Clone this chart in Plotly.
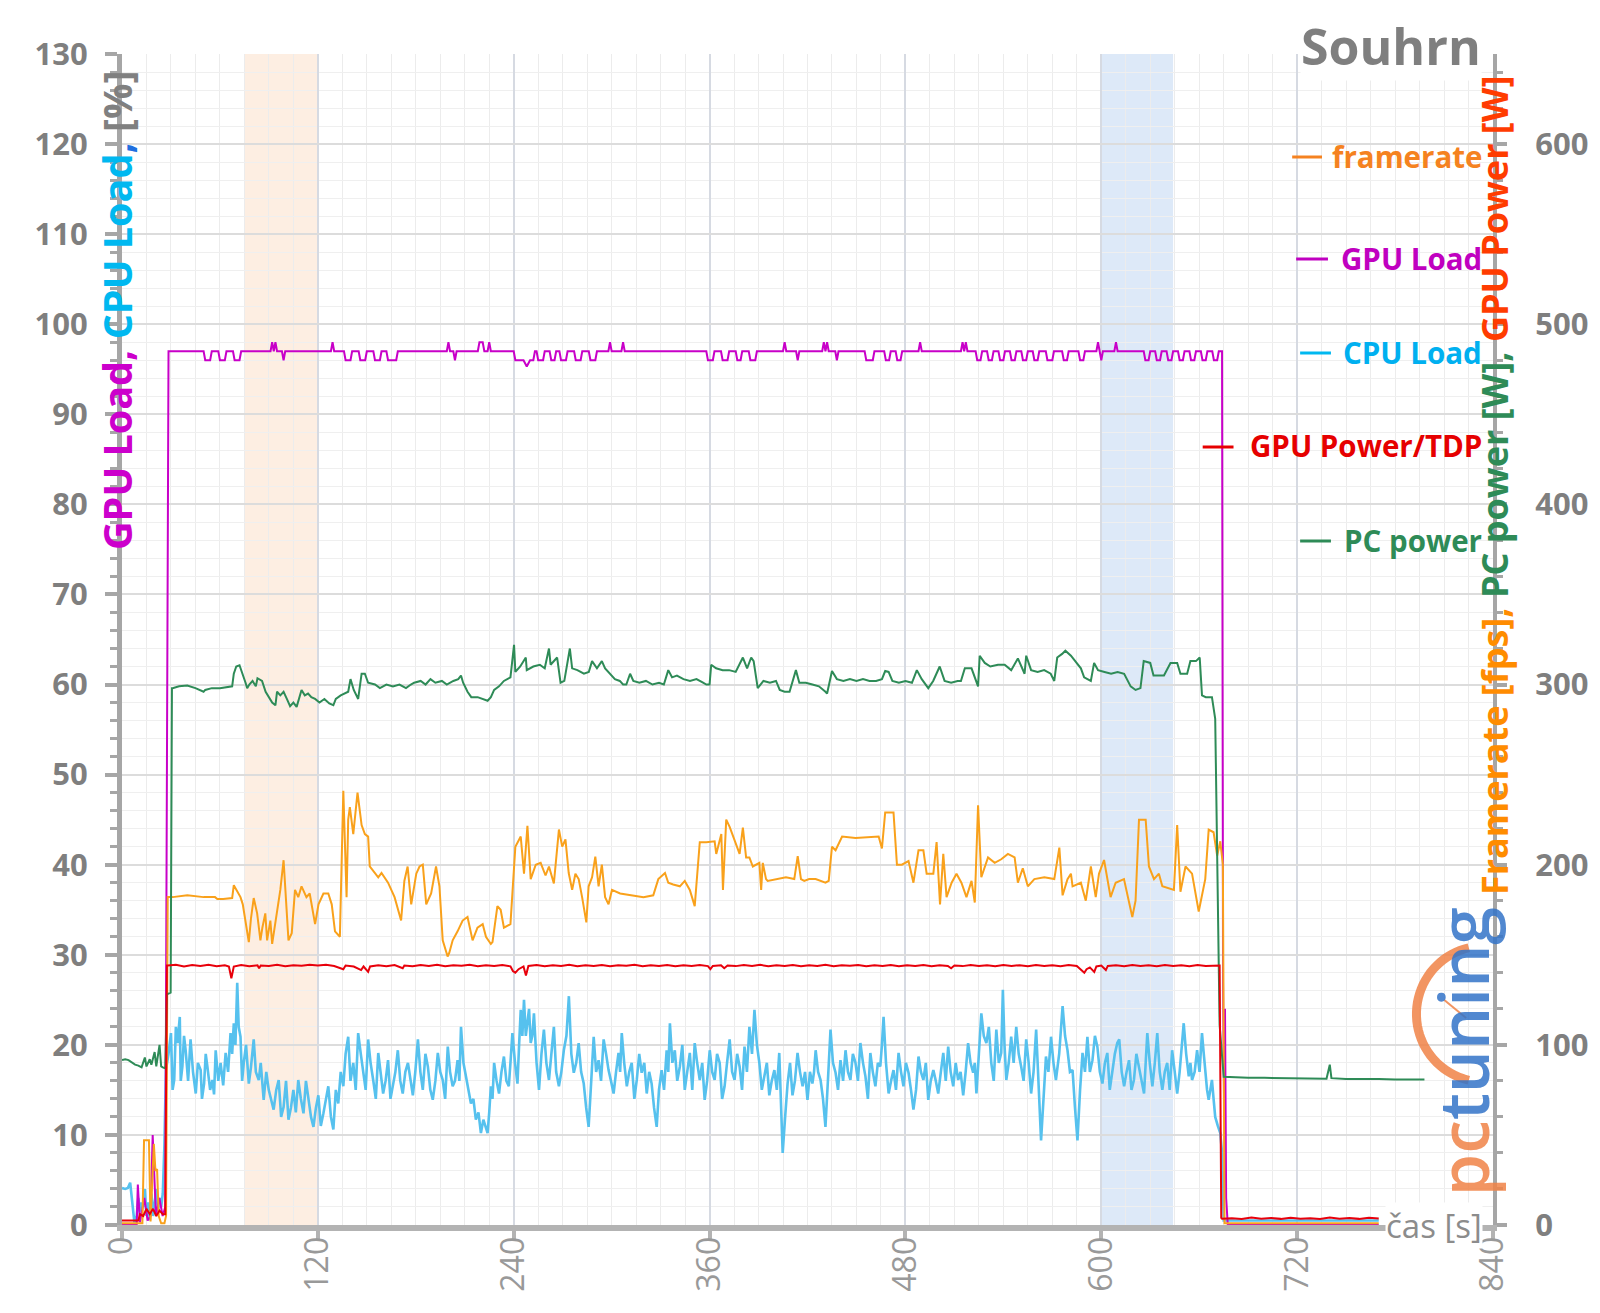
import plotly.graph_objects as go
import numpy as np

# ---------------- data ----------------
gpu_load_pts = [
    (0,0),(9,0),(9.7,4.5),(11,0.3),(13.7,3),(15.7,0.5),(17.5,1),(18.8,10),(20.8,1),(22.9,3),(24.9,1),(26.5,2),(28.5,97),
    (50,97),(51,96),(54,96),(55,97),(59,97),(60,96),(63,96),(64,97),(68,97),(69,96),(72,96),(73,97),
    (91,97),(92,98),(93,97),(94,98),(95,97),(98,97),(99,96),(100,97),
    (128,97),(129,98),(130,97),(136,97),(137,96),(140,96),(141,97),(145,97),(146,96),(149,96),(150,97),
    (154,97),(155,96),(158,96),(159,97),(162,97),(163,96),(168,96),(169,97),
    (199,97),(200,98),(201,97),(203,97),(204,96),(205,97),
    (218,97),(219,98),(221,98),(222,97),(224,97),(225,98),(226,97),
    (240,97),(241,96),(246,96),(248,95.3),(250,96),(252,96),(253,97),
    (254,97),(255,96),(258,96),(259,97),(262,97),(263,96),(265,96),(266,97),(268,97),(269,96),(272,96),(273,97),
    (277,97),(278,96),(281,96),(282,97),(286,97),(287,96),(290,96),(291,97),
    (298,97),(299,98),(300,97),(306,97),(307,98),(308,97),
    (358,97),(359,96),(362,96),(363,97),(367,97),(368,96),(371,96),(372,97),(376,97),(377,96),(379,96),(380,97),
    (384,97),(385,96),(388,96),(389,97),(405,97),(406,98),(407,97),(413,97),(414,96),(415,97),
    (429,97),(430,98),(431,97),(432,98),(433,97),(437,97),(438,96),(439,97),
    (455,97),(456,96),(460,96),(461,97),(467,97),(468,96),(470,96),(471,97),(474,97),(475,96),(477,96),(478,97),
    (488,97),(489,98),(490,97),(514,97),(515,98),(516,97),(517,98),(518,97),
    (523,97),(524,96),(526,96),(527,97),(530,97),(531,96),(533,96),(534,97),(537,97),(538,96),(540,96),(541,97),
    (544,97),(545,96),(547,96),(548,97),(551,97),(552,96),(554,96),(555,97),(558,97),(559,96),(561,96),(562,97),
    (566,97),(567,96),(570,96),(571,97),(576,97),(577,96),(579,96),(580,97),(586,97),(587,96),(589,96),(590,97),
    (597,97),(598,98),(599,97),(600,96),(601,97),(608,97),(609,98),(610,97),
    (626,97),(627,96),(629,96),(630,97),(633,97),(634,96),(636,96),(637,97),(640,97),(641,96),(643,96),(644,97),
    (647,97),(648,96),(650,96),(651,97),(654,97),(655,96),(657,96),(658,97),(661,97),(662,96),(664,96),(665,97),
    (668,97),(669,96),(671,96),(672,97),(674,97),
    (674.6,27),(675.3,12),(675.8,24),(676.5,3),(677.5,0),(770,0),
]

cpu_load_pts = [
    (0,4.1),(2,4),(3.6,4.1),(5,4.7),(6,3),(7.6,0.3),(9,1),(10,3),(11,1.5),(12,2.5),(13,2),(14,4),(15,1),(16,2.5),
    (17,0.5),(18,3.5),(19,1),(20,2.5),(21,4),(22,1.5),(23,3),(24,2),(25,3.5),(26,9),
    (26.9,17.2),(28.5,19),(30,21.3),(31,15),(32,16.1),(33,22),(34,20.2),(35.4,23.1),(36,16),(37,17.6),(38,21),
    (39,19.4),(40.5,16),(42,20.6),(43.5,17),(45.2,14.6),(46.5,18),(48.2,17.2),(49,14),(50.3,15.7),(51.3,19),
    (52.3,17.6),(54,15),(55.4,16.1),(56.4,14.5),(57.4,19.4),(59,16),(60.4,18),(62,15.5),(63.5,19.1),(65,17),
    (66.5,21.3),(67.5,19),(68.5,22.4),(69.5,20),(70.6,26.9),(71.5,22),(72.6,20.9),(73.6,16),(74.6,18),(76,20),
    (77.7,15.7),(79,17.5),(80.7,20.6),(82,17),(83.8,16.1),(85,18),(86.8,13.9),(88.4,17),(89.9,15),(91.4,14),
    (92.9,12.8),(94.5,15),(96,16.1),(97.5,12),(99,13.1),(100.5,16),(102,11.7),(103.5,13),(105,15),(106.5,12.5),
    (108,16.1),(109.6,14),(111.2,12.4),(112.7,16),(114.2,13.9),(115.8,12),(117.3,10.9),(118.8,13),(120.3,14.4),
    (121.8,11),(123.4,12.4),(124.9,14),(126.4,15.4),(128,12),(129.5,10.6),(131,15),(132.5,13.5),(134,17),
    (135.6,15.4),(137,19),(138.6,20.9),(140,16),(141.7,18),(143.2,15),(144.7,21.3),(146.3,19),(147.8,17.2),
    (149.3,15),(150.8,20.6),(152.3,18),(153.9,16.1),(155.5,14),(157,19.1),(158.5,17),(160,14.6),(161.5,16),
    (163,18.3),(164.5,14),(166,15.4),(167.5,17),(169,19.4),(170.5,16),(172,14.6),(173.6,17),(175.2,18),
    (176.7,16),(178.2,14.4),(179.7,17),(181.3,20.6),(182.8,17),(184.3,15),(185.9,19),(187.4,17.6),(188.9,15),
    (190.4,13.9),(192,16),(193.5,19.1),(195,17),(196.5,16.1),(198,14),(199.6,19.8),(201,17),(202.6,15.4),
    (204,16),(205.6,18.3),(206.7,16),(207.7,22),(209.2,18),(210.7,16.5),(212.3,15),(213.8,13.5),(215.3,14),
    (216.8,11.7),(218.4,12.5),(219.9,10.2),(221.4,11.7),(222.9,10.9),(224,10.2),(225,12.5),(226,15.4),(227,14),
    (228,18),(229.5,16),(231,14.6),(232.5,17),(234,18.7),(235.5,16),(237,15.4),(238,18),(239.2,21.3),
    (240.8,18),(242.3,15.7),(243.3,20),(244.3,23.9),(245.3,21),(246.3,25),(247.4,21),(248.4,22.8),(249.4,24),
    (250.4,20.2),(251.4,21),(252.4,23.5),(254,18),(255.5,15),(257,19),(258.5,21.7),(260,18),(261.6,16.1),
    (263,19),(264.6,22),(266,17),(267.7,15.4),(269.2,17),(270.7,19.4),(272.3,21),(273.8,25.4),(275.3,19),
    (276.8,16.9),(278.3,18),(279.8,20.2),(281.3,17),(282.9,15.7),(284.4,13),(285.9,10.9),(287.5,16),(289,20.9),
    (290.5,17),(292,18.3),(293.5,16),(295.1,20.6),(296.6,19),(298.1,17.2),(299.6,16),(301.2,14.6),(302.7,17),
    (304.2,19.1),(305.2,17),(306.2,21.3),(307.7,18),(309.3,15.4),(310.8,17),(312.3,18),(313.9,14),(315.4,16.1),
    (316.9,19),(318.4,16.9),(320,18),(321.5,14.6),(323,17),(324.5,15.7),(326,13),(327.6,10.9),(329,15),
    (330.6,17.2),(332.1,15),(333.7,19.4),(334.7,17),(335.7,22.4),(337.2,18),(338.7,19.4),(340.2,16),
    (341.8,17.6),(343.3,20),(344.8,15),(346.3,17),(347.9,19.1),(349.4,15),(350.9,20.2),(352.4,18),(354,16.1),
    (355.5,18),(357,13.9),(358.5,16),(360.1,19.4),(361.6,17),(363.1,16.1),(364.6,19),(366.2,18),(367.7,14),
    (369.2,15.4),(370.7,18),(372.3,20.6),(373.8,17),(375.3,16.1),(376.9,19),(378.4,17.6),(379.9,15),
    (381.4,19.8),(382.9,17),(384.4,22),(386,19),(387.5,23.9),(389,20),(390.5,18),(392,15),(393.6,16.5),
    (395.1,18),(396.6,14.4),(398.1,16),(399.7,17.2),(401.2,15),(402.7,19.1),(403.8,14),(404.8,8),(406.3,12),
    (407.8,15.7),(409.3,18),(410.8,14.4),(412.3,16),(413.9,19.1),(415.4,17),(417,15.4),(418.5,17),(420,13.9),
    (421.5,17),(423,15.7),(424,17),(425,19.4),(426.5,17),(428,16.1),(429.5,14),(431,10.9),(432.5,16),
    (434.1,21.7),(435.6,18),(437.2,16.9),(438.7,15),(440.2,18.3),(441.8,16),(443.3,19.4),(444.8,17),
    (446.3,16.1),(447.8,19),(449.4,18),(450.9,16),(452.4,20.2),(454,18),(455.5,16.5),(457,14),(458.5,19.1),
    (460,17),(461.6,15.4),(463.1,18),(464.6,17.6),(465.6,20),(466.6,23.1),(468.1,18),(469.7,14.6),(471.2,16),
    (472.7,17.2),(474.2,15),(475.8,19.1),(477.3,17),(478.8,15.4),(480.3,18),(481.9,16.9),(483.4,15),
    (484.9,12.8),(486.5,15),(488,18.7),(489.5,17),(491,16.1),(492.5,18),(494,13.9),(495.5,16),(497.1,17.2),
    (498.6,16),(500.1,14.6),(501.7,17),(503.2,19.1),(504.7,16),(506.2,19.8),(507.7,17),(509.3,15.4),
    (510.8,18),(512.3,16.1),(513.8,17),(515.4,14.4),(516.9,17),(518.4,20.2),(519.9,18),(521.5,16.9),
    (522.5,18),(523.5,14.6),(525,19),(526.5,23.5),(528,21),(529.6,20.2),(531.1,22),(532.6,18),(534.1,16),
    (535.7,21.7),(537.2,18),(538.7,19.1),(539.7,26.1),(540.7,20),(541.8,16.1),(543.3,18),(544.8,20.9),
    (546.3,18),(547.9,22),(549.4,19),(550.9,17.6),(552.4,16),(554,20.6),(555.5,18),(557,14.6),(558.5,17),
    (560.1,21.7),(561.6,15),(563.1,9.4),(564.6,14),(566.1,18.7),(567.6,17),(569.2,20.9),(570.7,18),
    (572.2,16.1),(574.2,19),(576.3,24.3),(577.8,21),(579.3,19.4),(580.8,17),(582.4,17.2),(583.9,13),
    (585.4,9.4),(587,15),(588.5,19.1),(590,17),(591.5,20.9),(593,17),(594.6,18.3),(596.1,21),(597.6,19.8),
    (599.1,17),(600.7,15.7),(602.2,18),(603.7,19.1),(605.2,15),(606.8,16.9),(608.3,19),(609.8,20.2),(611,20.6),
    (612.5,17),(614,15.4),(615.5,17),(617,18.3),(618.5,15),(620,16.1),(621.5,19),(623.1,17.6),(624.6,16),
    (626.2,14.6),(627.2,18),(628.2,21.3),(629.7,18),(631.3,15.4),(632.8,18),(634.3,21.3),(635.8,17),(637.4,15),
    (638.9,17),(640.4,18),(641.9,15),(643.4,19.4),(645,17),(646.5,14.6),(648,17),(649.5,20.9),(650.5,22.4),
    (652,19),(653.6,16.5),(654.6,18),(655.6,16.1),(657.2,17),(658.7,19.4),(660.2,17),(661.7,21.3),(662.8,19),
    (663.8,16.5),(664.8,15),(665.8,13.9),(666.8,15),(667.8,16.1),(668.8,14),(669.8,12),(671.4,11),(672.9,10.2),
    (674,8),(675,0.5),(770,0.5),
]

framerate_pts = [
    (0,1),(12.5,1),(13.5,47),(16.5,47),(17.5,2),(18.5,25),(19.5,45),(20.5,30),(21.5,31),(22.5,5),(24,1),(26,1),(27,5),
    (28,182),(31,182),(40,183),(50,182),(57,182),(58.4,181),(62,181),(67.5,181.5),(68.5,188.6),(70.6,185),
    (72.6,182),(74,178),(75.7,169),(77.7,157),(79,170),(80.7,181.5),(82.8,173),(84.8,158),(86,165),(87.8,173),
    (88.9,158),(90.9,169),(92,156),(94,167),(97,186),(99,202.5),(100,188),(102,158),(104,162),(106,186),
    (108,182),(110,188),(113,182),(115,184),(118.3,167),(120.4,178),(123.4,184),(126.4,184),(128.5,178),
    (130.5,163),(133.5,160),(135.6,241),(137.6,182),(138.6,225),(139.6,232),(141.7,217),(144.3,240),
    (146.8,222),(148.8,217),(150.8,215.6),(151.8,199),(154.9,195),(157,193),(159,195.4),(163,190),(167,182),
    (171,169),(173,191),(175,199),(177.2,178),(180.3,195),(182.3,199),(184.3,200),(186.4,178),(189.4,184),
    (192.4,199),(194.5,188),(196.5,158),(199.5,149),(200.5,151),(202.6,158),(205.6,163),(208.7,169),
    (211.7,171),(214.8,158),(217.8,165),(221,167),(223,160),(226,156),(227,157),(230,177),(232,175),(234,165),
    (238,167),(241,210),(244.3,215.6),(246.3,195),(248.4,221.6),(250.4,192),(253.5,200),(256.5,201),
    (259.5,194),(261.6,199),(264.6,189.6),(267.7,219.5),(269.7,210),(271.7,214),(273.7,195.4),(275.8,186),
    (277.8,195),(279.8,192),(281.9,182),(284.5,168),(285.9,188),(288,193),(290,204.5),(292,188),(294,200),
    (296,182),(298.1,178),(300.2,186),(305.2,184),(313.4,183),(319.5,182),(325.5,183),(328.6,192),
    (332.7,195.4),(334.7,190),(337.7,189),(341.8,188),(344.8,191),(347.9,186),(350.9,177),(353,200),
    (354,212.5),(358,212.5),(363.1,213),(364.1,206),(367.2,217),(368.2,186),(370.2,225),(372.3,221),
    (375.3,214),(378.4,206),(380.4,220.6),(382.4,204),(384.4,204),(386.5,199),(390.5,201),(391.6,186),
    (392.6,201),(394.6,192),(395.6,191),(400.7,192),(406.8,193),(411.9,192),(414,204.7),(416,192),(418,191),
    (421,192),(425,192),(431,190),(433,191),(435,210),(437.2,208),(441.2,215.6),(449.4,214.8),(463.6,215.6),
    (465.6,209),(467.6,229),(472.7,229),(474.8,200),(477.8,200),(481.9,202),(484.9,190),(488,208),(491,208),
    (493,195),(497.1,195),(499.1,212.5),(501.2,178),(503.2,206),(505.2,182),(508.3,190),(511.3,195),
    (514.3,190),(517.4,182),(520.5,191),(522.5,179),(524.5,233),(526.5,193),(530.6,204),(534.7,201),
    (538.7,203),(542.8,206),(546.9,204),(548.9,190),(551.9,198),(555,188),(559,192),(565.1,193),(571.2,192),
    (574.3,209.5),(576.3,183),(579.3,192),(581.4,195),(582.4,188),(587.5,190),(590.5,180),(593.6,199),
    (596.6,182),(598.6,195),(601.7,202.6),(605.7,182),(608.8,190),(613.9,192),(615.9,184),(619,171),(621,180),
    (623.1,225),(627.2,225),(629.2,199),(632.3,192),(635.3,195),(637.4,188),(644.5,186),(646.5,222),
    (648.5,185),(651.6,199),(655.6,195),(659.7,174),(663.7,192),(665.8,219.5),(668.8,218),(671,205),
    (672.9,213),(674.5,200),(675.5,1),(700,1),(730,1),(770,1),
]

pc_power_pts = [
    (0,91.5),(2,92),(4,91.5),(6,90),(8,89),(10,88.5),(12,87.5),(14,93),(15,88),(17,92),(18,89),(20,96),(21,88),
    (23,100),(24,88),(25,87.5),(26.5,87),(27.5,128),(29.8,129),(30.6,298),
    (31,298),(35,299),(40,299.5),(45,298),(48,297),(50,296),(51,297),(55,298),(60,298),(65,298.5),(67.5,299),
    (68.5,306),(70,310),(72,310.7),(74,306),(75.7,301),(76.7,298),(78,300),(80,302),(82,299),(83,303.5),
    (85.8,302),(88,296),(90,293),(92,290),(94,288.5),(95,296),(97,294),(99,296),(101,292),(103,288),(105,290),
    (107,287.6),(110,297),(112,294),(114,295),(116,293),(118.3,292),(121,290),(124,292),(127,289.5),
    (129.5,288.5),(131,292),(134,294),(136,295),(138.6,296),(140,303),(142,297),(144.7,292),(146.8,306),
    (148.8,306),(150.8,301),(155,300),(158,298),(162,300),(166,299),(170,300),(174,298),(177,300),(179,301),
    (183,302),(186,300),(189,303),(192,301),(196,302),(199,300),(203,302),(206,303),(207.7,305),(209,301),
    (211.7,296),(214,293),(217.9,293),(221,292),(224,291),(226,293),(228,297),(231,299),(234,302),(238,304),
    (240.2,322),(241,307),(244,310),(247.4,315),(248,308),(252,310),(256,311),(259,309),(261.6,320),
    (262.6,311),(266.6,315),(268.7,301),(271,302),(274.4,320),(275.8,309),(279,308),(283,306),(286,307),
    (288,313),(291,309),(294,313),(296,309),(299,306),(302,303),(305,302),(307,300),(309,300),(311.3,306),
    (313.3,302),(317,301),(321,302),(325,300),(329,301),(332,300),(334.7,308),(337,304),(340,305),(344,303),
    (348,302),(352,303),(356,301),(358,300),(360,300),(361,311),(364,309),(368,308),(372,308),(376,307),
    (380.4,315),(383,309),(385.5,315),(387,313),(389.5,298),(393,302),(397,301),(400.7,302),(403,297),
    (406,296),(409,296),(412.9,308),(415,301),(419,301),(423,300),(427,299),(431,296),(432,295),(435,307.5),
    (438,303),(442,302),(446,303),(450,302),(454,303),(458,302),(462,302),(465.6,303),(467.6,307.5),
    (469.7,307),(472,302),(476,301),(480,302),(484,301),(487,308),(490,303),(494,298),(497,302),(501,310),
    (504,302),(508,301),(512,302),(514,302),(516.4,309),(520.5,309),(524.5,299),(525.5,316),(528.6,312),
    (532,310),(536.7,311),(540.8,311),(544.8,308),(548.9,314.5),(553,306),(554,316),(557,308),(561,307),
    (565,308),(569,306),(571.2,302),(573,315),(576,317),(578,318.8),(581.4,316),(585.4,311),(587.5,309),
    (589.5,304),(593.6,302),(595.6,312),(598,308),(602,307),(606,306),(610,307),(614,306),(618,299),(621,297),
    (624,298),(626,313),(630,312),(632,305),(634.3,305),(638.4,305),(642.4,312),(646.5,312),(648.5,306),
    (652.6,306),(654.6,313),(658,313),(660.3,315),(661.7,294),(664,293),(667.8,293),(669.8,281),(671,200),
    (672.5,111),(675,82.3),(680,82),(690,81.8),(700,81.7),(710,81.5),(720,81.5),(730,81.3),(738,81.2),
    (740,89),(741,81.5),(750,81),(760,81.2),(770,81),(780,80.8),(790,81),(798,80.8),
]

gpu_power_pts = [
    (0,2.5),(10,2.5),(11,6),(13,5),(15,9),(17,6),(19,9),(21,5),(23,8),(25,6),(26.5,6),(27.5,144),
    (28,144),(33,144.5),(38,143.5),(43,144.3),(48,143.8),(53,144.5),(58,143.7),(63,144.2),(65.5,143.5),
    (67,137),(68.5,143.5),(73,144.3),(78,143.6),(83,144.2),(84,142.5),(85,144),(90,143.8),(95,144.4),
    (100,143.7),(105,144.2),(110,143.9),(115,144.5),(120,144),(125,144.4),(130,143.8),(135.6,142),(137,144),
    (142,143.5),(146.5,141.5),(148,143.5),(150.8,140.5),(152,143.5),(157,144.2),(162,143.7),(167,144.3),
    (172,142.5),(173,144),(178,143.6),(183,144.3),(188,143.8),(193,144.4),(198,143.7),(203,144.2),
    (208,143.9),(213,144.4),(218,143.7),(223,144.2),(228,143.8),(233,144.3),(238,143.6),(239.5,141),
    (241,140),(243,142),(246,143.5),(247.5,138.5),(249,143.8),(254,144.3),(259,143.6),(264,144.2),
    (269,143.8),(274,144.4),(279,143.7),(284,144.2),(289,143.8),(294,144.3),(299,143.7),(304,144.2),
    (309,143.9),(314,144.4),(319,143.7),(324,144.2),(329,143.8),(334,144.3),(339,143.6),(344,144.2),
    (349,143.8),(354,144.3),(359,143.7),(360.5,142),(362,143.8),(367,144.2),(369,142.5),(371,144),
    (376,143.7),(381,144.3),(386,143.8),(391,144.4),(396,143.7),(401,144.2),(406,143.8),(411,144.3),
    (416,143.7),(421,144.2),(426,143.8),(431,144.4),(436,143.7),(441,144.2),(446,143.9),(451,144.3),
    (456,143.7),(461,144.2),(466,143.8),(471,144.3),(476,143.6),(481,144.2),(486,143.8),(491,144.3),
    (496,143.7),(501,144.2),(506,143.8),(508,142.5),(510,144),(515,143.7),(520,144.3),(525,143.8),
    (530,144.2),(535,143.7),(540,144.3),(545,143.8),(550,144.2),(555,143.7),(560,144.3),(565,143.8),
    (570,144.2),(575,143.7),(580,144.3),(585,143.8),(589.6,140),(591,142),(593,143),(595.7,140.5),
    (597,143.5),(600,144),(602.8,141.5),(604,143.8),(609,144.2),(614,143.7),(619,144.3),(624,143.8),
    (629,144.2),(634,143.7),(639,144.3),(644,143.8),(649,144.2),(654,143.7),(659,144.3),(664,143.8),
    (669,144.1),(672.5,144),(673.5,4),(674,3.5),(680,3.8),(686,3.3),(692,4.2),(698,3.5),(704,3.9),
    (710,3.4),(716,4),(722,3.5),(728,3.8),(734,3.3),(740,4.1),(746,3.5),(752,3.9),(758,3.4),(764,4),(770,3.6),
]

x_ticks = [0, 120, 240, 360, 480, 600, 720, 840]
left_ticks = list(range(0, 131, 10))
right_ticks = list(range(0, 601, 100))
highlight_bands = [(75, 120, "#fdeee2"), (600, 644, "#dde9f8")]

legend_items = [
    ("framerate", "#f58220", "#f58220"),
    ("GPU Load", "#c000c0", "#c000c0"),
    ("CPU Load", "#00b0f0", "#00b8f0"),
    ("GPU Power/TDP", "#e60000", "#e60000"),
    ("PC power", "#2e8b57", "#2e8b57"),
]

# ---------------- figure ----------------
W, H = 1600, 1313
ML, MR, MT, MB = 122, 99, 54, 88
FONT = "Open Sans"
GRAY = "#7f7f7f"

def unzip(pts):
    return [p[0] for p in pts], [p[1] for p in pts]

fig = go.Figure()

series = [
    ("CPU Load", cpu_load_pts, "y", "#56c1ee", 2.6),
    ("framerate", framerate_pts, "y2", "#f9a11b", 2),
    ("PC power", pc_power_pts, "y2", "#2e8b57", 2),
    ("GPU Power/TDP", gpu_power_pts, "y2", "#e8000b", 2),
    ("GPU Load", gpu_load_pts, "y", "#c800c8", 2),
]
for name, pts, ax, col, w in series:
    t, v = unzip(pts)
    fig.add_trace(go.Scatter(x=t, y=v, yaxis=ax, mode="lines", name=name,
                             line=dict(color=col, width=w), showlegend=False,
                             hoverinfo="skip"))

pw = W - ML - MR
ph = H - MT - MB
def to_paper(px, py):
    return (px - ML) / pw, (H - MB - py) / ph

shapes = []
for x0, x1, c in highlight_bands:
    shapes.append(dict(type="rect", xref="x", yref="paper", x0=x0, x1=x1, y0=0, y1=1,
                       fillcolor=c, line=dict(width=0), layer="below"))

# pctuning logo arc (decoration)
cx, cy, r = 1492, 1014, 68
angs = np.linspace(np.deg2rad(103), np.deg2rad(257), 40)
pts = [to_paper(cx + r * np.cos(a), cy - r * np.sin(a)) for a in angs]
path = "M " + " L ".join(f"{x:.5f},{y:.5f}" for x, y in pts)
shapes.append(dict(type="path", xref="paper", yref="paper", path=path,
                   line=dict(color="rgba(240,130,70,0.85)", width=9), layer="above"))
nx0, ny0 = to_paper(1474, 1018)
nx1, ny1 = to_paper(1452, 1000)
shapes.append(dict(type="line", xref="paper", yref="paper", x0=nx0, y0=ny0, x1=nx1, y1=ny1,
                   line=dict(color="rgba(240,130,70,0.85)", width=2), layer="above"))

annotations = []
# legend (text + line segment)
leg_y_px = [156, 258, 352, 446, 540]
leg_line_x = [(1299, 1329), (1303, 1335), (1307, 1338), (1209, 1240), (1307, 1338)]
for (txt, tcol, lcol), ypx, (lx0, lx1) in zip(legend_items, leg_y_px, leg_line_x):
    annotations.append(dict(xref="paper", yref="paper", x=(1492 - ML) / pw, y=(H - MB - ypx) / ph,
                            xanchor="right", yanchor="middle", showarrow=False, text=txt,
                            font=dict(family=FONT, size=29.5, color=tcol, weight="bold")))
    a0 = to_paper(lx0, ypx + 1)
    a1 = to_paper(lx1, ypx + 1)
    shapes.append(dict(type="line", xref="paper", yref="paper", x0=a0[0], y0=a0[1], x1=a1[0], y1=a1[1],
                       line=dict(color=lcol, width=3), layer="above"))
# title
annotations.append(dict(xref="paper", yref="paper", x=(1490 - ML) / pw, y=(H - MB - 46) / ph,
                        xanchor="right", yanchor="middle", showarrow=False, text="Souhrn",
                        bgcolor="white", borderpad=0,
                        font=dict(family=FONT, size=50, color=GRAY, weight="bold")))
# left axis title
left_title = ("<span style='color:#cc00cc'>GPU Load, </span>"
              "<span style='color:#00b8f0'>CPU Load</span>"
              "<span style='color:#1f6fe0'>, </span>"
              "<span style='color:#808080'>[%]</span>")
annotations.append(dict(xref="paper", yref="paper", x=(117 - ML) / pw, y=(H - MB - 310) / ph,
                        xanchor="center", yanchor="middle", showarrow=False, textangle=-90,
                        text=left_title, font=dict(family=FONT, size=39.5, weight="bold")))
# right axis title
right_title = ("<span style='color:#ff8c00'>Framerate [fps], </span>"
               "<span style='color:#2e8b57'>PC power [W], </span>"
               "<span style='color:#ff3c00'>GPU Power [W]</span>")
annotations.append(dict(xref="paper", yref="paper", x=(1502 - ML) / pw, y=(H - MB - 485) / ph,
                        xanchor="center", yanchor="middle", showarrow=False, textangle=-90,
                        text=right_title, font=dict(family=FONT, size=36, weight="bold")))
# x axis title
annotations.append(dict(xref="paper", yref="paper", x=(1442 - ML) / pw, y=0,
                        xanchor="center", yanchor="middle", showarrow=False, text="čas [s]",
                        bgcolor="white", borderpad=0,
                        font=dict(family=FONT, size=33, color="#8c8c8c")))
# logo text
annotations.append(dict(xref="paper", yref="paper", x=(1470 - ML) / pw, y=(H - MB - 1052) / ph,
                        xanchor="center", yanchor="middle", showarrow=False, textangle=-90,
                        text="<span style='color:rgba(240,130,70,0.85)'>pc</span>"
                             "<span style='color:rgba(50,115,200,0.85)'>tuning</span>",
                        font=dict(family=FONT, size=68, weight=600)))

fig.update_layout(
    width=W, height=H, autosize=False,
    margin=dict(l=ML, r=MR, t=MT, b=MB, pad=0),
    paper_bgcolor="white", plot_bgcolor="white",
    shapes=shapes, annotations=annotations,
    font=dict(family=FONT, color=GRAY),
    xaxis=dict(range=[0, 840], tickvals=x_ticks, ticktext=[str(v) for v in x_ticks],
               tickangle=-90, showgrid=True, gridcolor="#d6dae2", gridwidth=2,
               minor=dict(dtick=15, tick0=0, showgrid=True, gridcolor="#ececec", gridwidth=1),
               showline=True, linecolor="#b3b3b3", linewidth=6,
               ticks="outside", ticklen=10, tickwidth=4, tickcolor="#b3b3b3",
               ticklabelstandoff=-17,
               tickfont=dict(family=FONT, size=32, color="#999999"),
               zeroline=False, fixedrange=True),
    yaxis=dict(range=[0, 130], tickvals=left_ticks, ticktext=[str(v) for v in left_ticks],
               showgrid=True, gridcolor="#dcdcdc", gridwidth=2,
               minor=dict(dtick=2, tick0=0, showgrid=True, gridcolor="#efefef", gridwidth=1,
                          ticks="outside", ticklen=7, tickwidth=3, tickcolor="#a6a6a6"),
               showline=True, linecolor="#a6a6a6", linewidth=5,
               ticks="outside", ticklen=12, tickwidth=4, tickcolor="#a6a6a6",
               ticklabelstandoff=11,
               tickfont=dict(family=FONT, size=31, color=GRAY, weight="bold"),
               zeroline=False),
    yaxis2=dict(range=[0, 650], tickvals=right_ticks, ticktext=[str(v) for v in right_ticks],
                overlaying="y", side="right", showgrid=False,
                minor=dict(dtick=20, tick0=0, ticks="outside", ticklen=6, tickwidth=3, tickcolor="#a6a6a6"),
                showline=True, linecolor="#a6a6a6", linewidth=4,
                ticks="outside", ticklen=10, tickwidth=4, tickcolor="#a6a6a6",
                ticklabelstandoff=22,
                tickfont=dict(family=FONT, size=31, color=GRAY, weight="bold"),
                zeroline=False),
)

fig.write_html("out.html")
